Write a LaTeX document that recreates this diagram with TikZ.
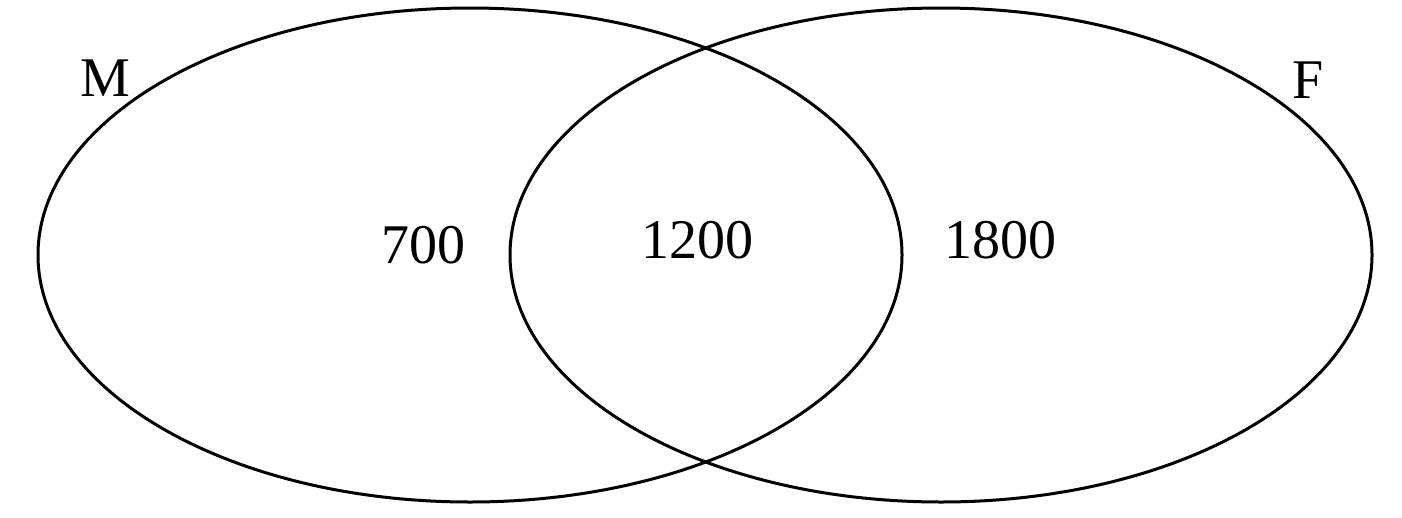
\documentclass[tikz,border=0pt]{standalone}
\usepackage{fontspec}
\setmainfont{Liberation Serif}
\begin{document}
\begin{tikzpicture}[x=1pt,y=-1pt,
  lbl/.style={font=\fontsize{56}{60}\selectfont, inner sep=0pt},
  ring/.style={draw=black, line width=3pt}]
\useasboundingbox (0,0) rectangle (1402,517);
\draw[ring] (470,255) ellipse [x radius=432, y radius=247];
\draw[ring] (941,255) ellipse [x radius=431, y radius=247];
\node[lbl] (m) at (105,78) {M};
\node[lbl] (f) at (1308,80) {F};
\node[lbl] (a) at (423,245) {700};
\node[lbl] (b) at (697,240) {1200};
\node[lbl] (c) at (1000,240) {1800};
\end{tikzpicture}
\end{document}
